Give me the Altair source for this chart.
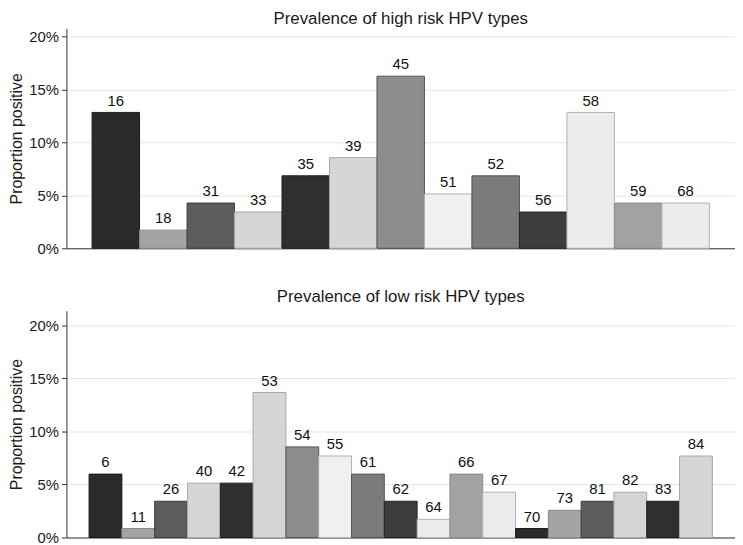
import altair as alt
import pandas as pd

# ---- data (percent positive) ----
high_types = ["16", "18", "31", "33", "35", "39", "45", "51", "52", "56", "58", "59", "68"]
high_values = [12.82, 1.71, 4.27, 3.42, 6.84, 8.55, 16.24, 5.13, 6.84, 3.42, 12.82, 4.27, 4.27]

low_types = ["6", "11", "26", "40", "42", "53", "54", "55", "61", "62", "64", "66", "67",
             "70", "73", "81", "82", "83", "84"]
low_values = [5.98, 0.85, 3.42, 5.13, 5.13, 13.68, 8.55, 7.69, 5.98, 3.42, 1.71, 5.98, 4.27,
              0.85, 2.56, 3.42, 4.27, 3.42, 7.69]

# ---- style ----
fills = ["#2a2a2a", "#a3a3a3", "#5c5c5c", "#d5d5d5", "#2f2f2f", "#d6d6d6", "#8c8c8c",
         "#f0f0f0", "#7b7b7b", "#3c3c3c", "#ececec", "#a2a2a2", "#ececec"]
strokes = ["#1a1a1a", "#8a8a8a", "#3e3e3e", "#a8a8a8", "#1c1c1c", "#a8a8a8", "#555555",
           "#b0b0b0", "#555555", "#222222", "#b0b0b0", "#8a8a8a", "#b0b0b0"]
FONT = "Liberation Sans"
keys = [str(i) for i in range(len(fills))]


def panel(types, values, title, pad_outer, ymax, height, offset):
    df = pd.DataFrame({
        "type": types,
        "value": values,
        "c": [str(i % len(fills)) for i in range(len(types))],
    })
    x = alt.X("type:N", sort=None, title=None,
              scale=alt.Scale(paddingInner=0, paddingOuter=pad_outer),
              axis=alt.Axis(labels=False, ticks=False, domain=True,
                            domainColor="#333333", grid=False))
    y = alt.Y("value:Q", title="Proportion positive",
              scale=alt.Scale(domain=[0, ymax], nice=False),
              axis=alt.Axis(values=[0, 5, 10, 15, 20], labelExpr="datum.value + '%'",
                            grid=True, gridColor="#e6e6e6", domainColor="#333333",
                            tickColor="#333333", tickSize=5, labelPadding=3,
                            labelFontSize=15, labelFont=FONT, labelColor="#1a1a1a",
                            titleFontSize=16, titleFont=FONT, titleFontWeight="normal",
                            titleColor="#1a1a1a", titlePadding=4))
    bars = alt.Chart(df).mark_bar(strokeWidth=1).encode(
        x=x, y=y,
        color=alt.Color("c:N", scale=alt.Scale(domain=keys, range=fills), legend=None),
        stroke=alt.Stroke("c:N", scale=alt.Scale(domain=keys, range=strokes), legend=None),
    )
    labels = alt.Chart(df).mark_text(baseline="bottom", dy=-4, fontSize=15, font=FONT,
                                     color="#111111").encode(
        x=alt.X("type:N", sort=None), y="value:Q", text="type:N")
    return (bars + labels).properties(
        width=675, height=height,
        title=alt.TitleParams(title, fontSize=17, font=FONT, fontWeight="normal",
                              color="#1a1a1a", offset=offset, anchor="middle"))


top = panel(high_types, high_values, "Prevalence of high risk HPV types", 0.54, 20.75, 222, 0)
bottom = panel(low_types, low_values, "Prevalence of low risk HPV types", 0.69, 21.4, 229, 5)

chart = alt.vconcat(top, bottom, spacing=32).properties(
    padding={"left": 0, "top": 0, "right": 0, "bottom": 0},
    background="white",
).configure_view(stroke=None)

chart.save("out.html", embed_options={"renderer": "svg", "actions": False})
